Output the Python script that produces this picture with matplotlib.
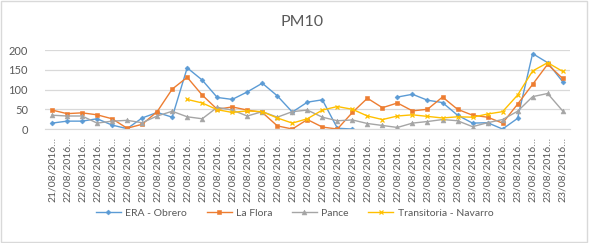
import numpy as np
import matplotlib
matplotlib.use("Agg")
import matplotlib.pyplot as plt
from matplotlib.patches import Rectangle

plt.rcParams['font.family'] = ['Lato', 'DejaVu Sans']

# Etiquetes de l'eix x (una per hora)
dates = ['21/08/2016'] + ['22/08/2016'] * 24 + ['23/08/2016'] * 10
tick_labels = [d + '…' for d in dates]

nan = np.nan
era_obrero = [15, 20, 20, 26, 10, 1, 28, 42, 30, 155, 124, 80, 75, 94, 116, 84, 43, 68,
              74, 2, 0, nan, nan, 81, 88, 73, 67, 35, 15, 16, 0, 27, 191, 168, 120]
la_flora = [48, 39, 41, 36, 26, 2, 12, 44, 101, 131, 86, 50, 56, 48, 42, 8, 0, 24,
            5, 0, 42, 78, 54, 66, 46, 50, 81, 50, 35, 30, 15, 63, 113, 164, 128]
pance = [35, 33, 33, 15, 20, 22, 16, 33, 45, 31, 26, 55, 48, 33, 44, 30, 44, 48,
         30, 21, 23, 14, 9, 4, 15, 19, 24, 21, 6, 16, 24, 45, 82, 90, 46]
transitoria = [nan, nan, nan, nan, nan, nan, nan, nan, nan, 75, 66, 49, 42, 46, 44, 28, 15, 26,
               48, 57, 50, 33, 24, 33, 36, 32, 28, 31, 30, 38, 44, 86, 147, 168, 146]

series = [
    ('ERA - Obrero', era_obrero, '#5B9BD5', 'D', 2.5),
    ('La Flora', la_flora, '#ED7D31', 's', 3.5),
    ('Pance', pance, '#A5A5A5', '^', 3.5),
    ('Transitoria - Navarro', transitoria, '#FFC000', 'x', 3.5),
]

x = np.arange(len(dates))

fig = plt.figure(figsize=(5.89, 2.43), dpi=100)
ax = fig.add_axes([0.0756, 0.469, 0.8924, 0.325])

for name, vals, col, mk, ms in series:
    ax.plot(x, vals, color=col, marker=mk, markersize=ms, linewidth=1.0,
            markeredgewidth=0.9 if mk == 'x' else 0.4, label=name)

ax.set_xlim(-0.5, len(dates) - 0.5)
ax.set_ylim(0, 200)
ax.set_yticks([0, 50, 100, 150, 200])
ax.grid(axis='y', color='#D9D9D9', linewidth=0.9)
ax.set_axisbelow(True)
for s in ['top', 'right', 'left']:
    ax.spines[s].set_visible(False)
ax.spines['bottom'].set_color('#D9D9D9')
ax.set_xticks(x)
ax.set_xticklabels(tick_labels, rotation=90, fontsize=7.5, color='#595959')
ax.tick_params(axis='x', length=0, pad=6)
ax.tick_params(axis='y', length=0, labelsize=8, labelcolor='#595959', pad=12)

fig.suptitle('PM10', x=0.513, y=0.94, fontsize=11.5, color='#595959')

fig.legend(loc='center', bbox_to_anchor=(0.5, 0.123), ncol=4, frameon=False,
           fontsize=7.5, labelcolor='#595959', handlelength=2.4, columnspacing=1.9,
           handletextpad=0.4)

fig.patches.append(Rectangle((0.002, 0.004), 0.994, 0.99, transform=fig.transFigure,
                             fill=False, edgecolor='#D9D9D9', linewidth=1))

fig.savefig('out.png', dpi=100)
